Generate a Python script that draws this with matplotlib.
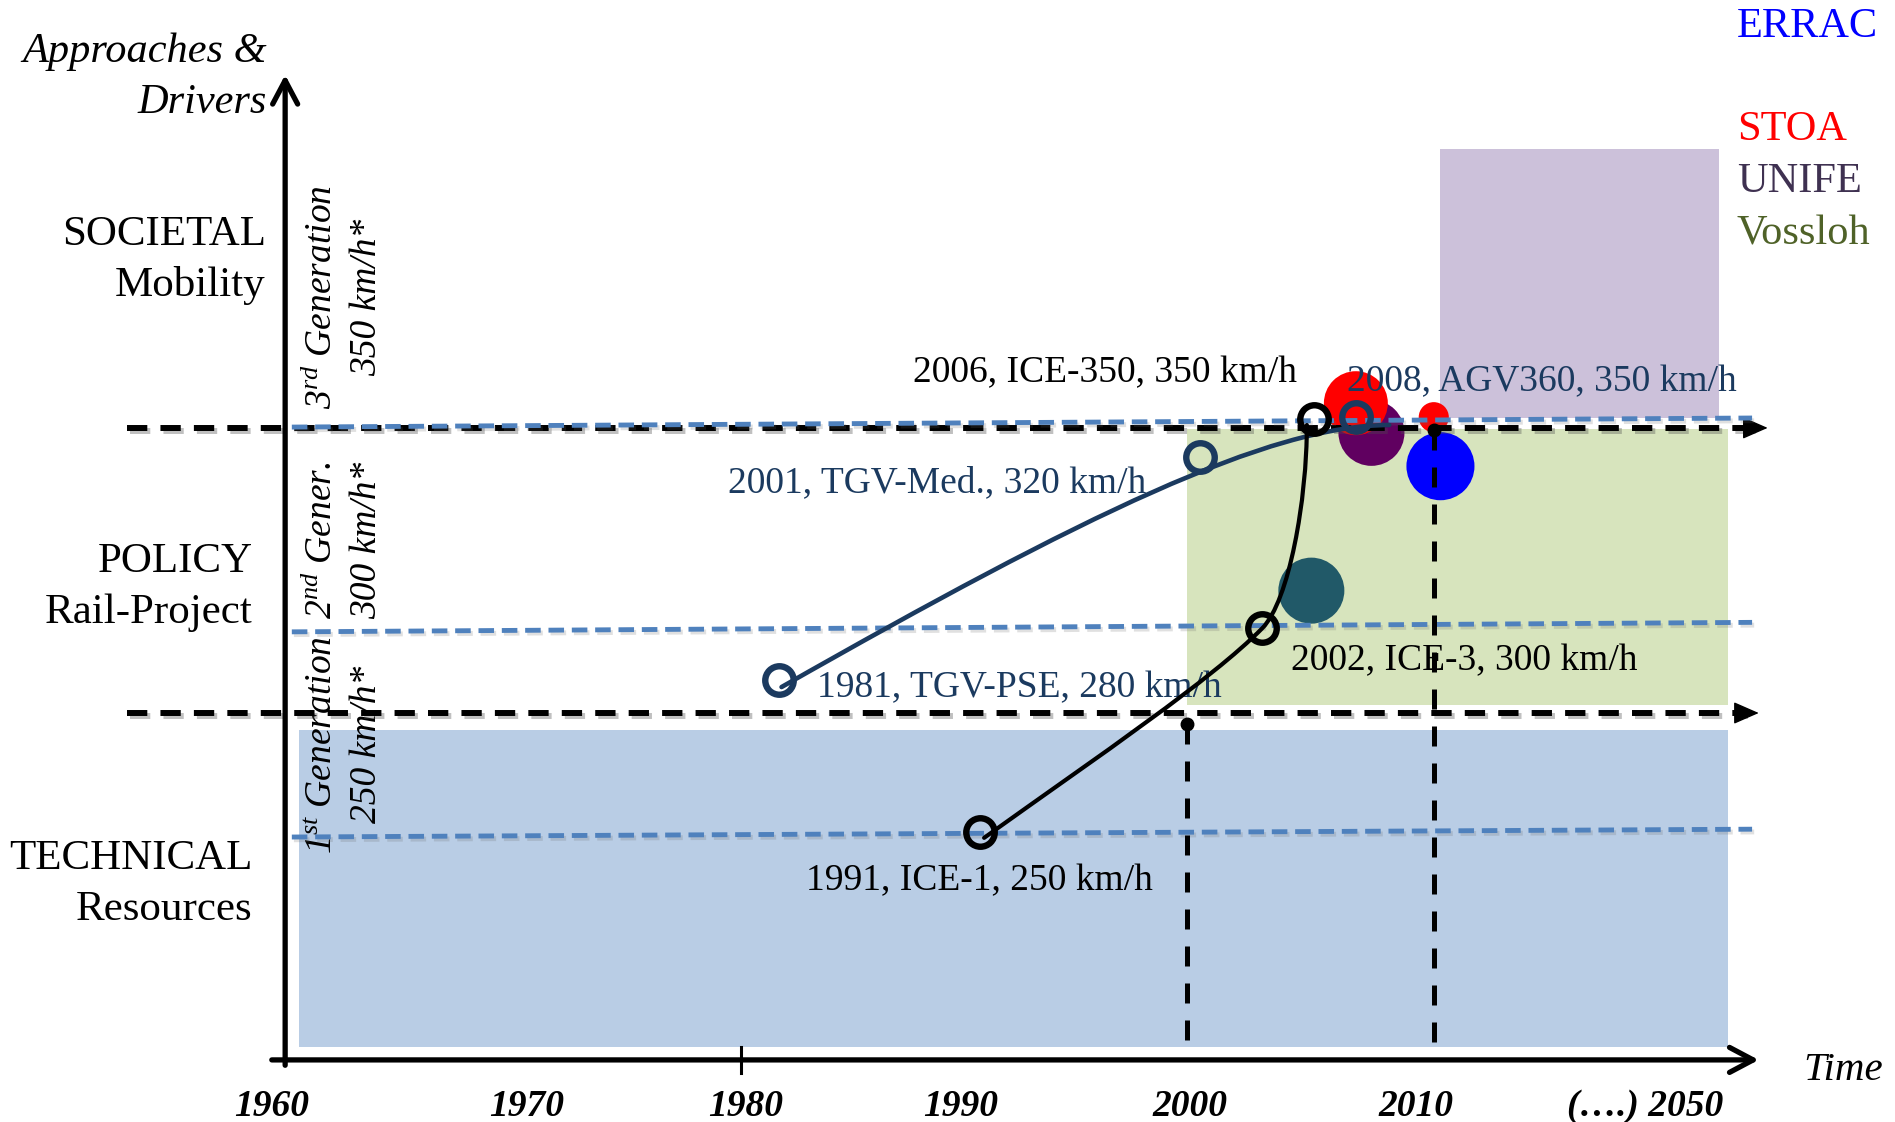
import matplotlib
matplotlib.use('Agg')
from matplotlib import pyplot as plt
from matplotlib import patheffects as pe
from matplotlib.patches import Rectangle, PathPatch
from matplotlib.path import Path

plt.rcParams['font.family'] = ['Liberation Serif', 'DejaVu Serif']
plt.rcParams['mathtext.fontset'] = 'custom'
plt.rcParams['mathtext.rm'] = 'Liberation Serif'
plt.rcParams['mathtext.it'] = 'Liberation Serif:italic'

NAVY = '#1b3a5f'
GUIDE = '#4f81bd'

# x = year, y = speed level (km/h); the axis is compressed after ~2020
#############################################################################
# data
levels      = [('SOCIETAL', 'Mobility'), ('POLICY', 'Rail-Project'), ('TECHNICAL', 'Resources')]
gen_lines   = [('3$^{rd}$ Generation', '350 km/h*'),
               ('2$^{nd}$ Gener.',     '300 km/h*'),
               ('1$^{st}$ Generation', '250 km/h*')]
guide_start = [349.5, 299.8, 250.0]      # blue dashed generation levels (slightly tilted)
guide_end   = [351.7, 302.1, 251.9]
thresholds  = [349.3, 280.1]             # black dashed borders between approaches

trains_year  = [1981.7, 1990.7, 2000.6, 2003.4, 2005.7, 2007.6]
trains_speed = [288.1, 251.2, 342.2, 300.7, 351.5, 351.9]
trains_label = ['1981, TGV-PSE, 280 km/h', '1991, ICE-1, 250 km/h',
                '2001, TGV-Med., 320 km/h', '2002, ICE-3, 300 km/h',
                '2006, ICE-350, 350 km/h', '2008, AGV360, 350 km/h']
trains_family = ['TGV', 'ICE', 'TGV', 'ICE', 'ICE', 'TGV']

# trend curves (bezier control points, year / km/h)
tgv_curve = [(1981.8, 286.4), (1995.3, 327.9), (2003.7, 350.0), (2009.1, 350.0)]
ice_curve = [(1990.9, 249.8), (1996.1, 269.9), (2001.1, 288.1), (2003.4, 300.7),
             (2004.6, 307.3), (2005.4, 331.8), (2005.4, 350.0)]

# areas: (x0, x1, y0, y1)
areas       = [(1960.1, 2024.3, 199.0, 276.0),
               (2000.0, 2024.3, 282.0, 349.0),
               (2011.4, 2023.9, 351.7, 417.1)]
area_colors = ['#b9cde5', '#d7e4bd', '#ccc1da']

blobs_year  = [2008.3, 2007.6, 2011.1, 2011.4, 2005.6]
blobs_speed = [348.1, 355.3, 351.9, 340.0, 309.8]
blobs_size  = [2260, 2120, 470, 2400, 2260]
blobs_color = ['#600060', '#ff0000', '#ff0000', '#0000ff', '#215968']

milestones     = [2000.0, 2011.1]
milestone_dots = [277.4, 348.8]

orgs       = ['ERRAC', 'STOA', 'UNIFE', 'Vossloh']
org_colors = ['#0000ff', '#ff0000', '#3f3151', '#4f6228']

tick_years  = [1960, 1970, 1980, 1990, 2000, 2010, 2020.6]
tick_labels = ['1960', '1970', '1980', '1990', '2000', '2010', '(….) 2050']

#############################################################################
fig = plt.figure(figsize=(18.95, 11.22), dpi=100)
ax = fig.add_axes([0, 0, 1, 1])
ax.set_xlim(1946.69, 2031.82)
ax.set_ylim(180.83, 453.16)
ax.axis('off')

shadow = [pe.SimpleLineShadow(offset=(2, -2.5), shadow_color='0.3', alpha=0.35), pe.Normal()]
soft   = [pe.SimpleLineShadow(offset=(1.5, -2), shadow_color='0.4', alpha=0.2), pe.Normal()]

for (x0, x1, y0, y1), c in zip(areas, area_colors):
  ax.add_patch(Rectangle((x0, y0), x1 - x0, y1 - y0, facecolor=c, edgecolor='none', zorder=1))

ax.scatter(blobs_year, blobs_speed, s=blobs_size, c=blobs_color, linewidths=0, zorder=2)

# black dashed borders with arrow heads
for y, xend in zip(thresholds, [2026.1, 2025.7]):
  ax.plot([1952.4, xend - 0.6], [y, y], color='k', lw=4.3, dashes=(3.4, 2.2),
          solid_capstyle='butt', path_effects=shadow, zorder=3)
  ax.annotate('', xy=(xend, y), xytext=(xend - 1.0, y),
              arrowprops=dict(arrowstyle='-|>,head_length=0.8,head_width=0.35',
                              color='k', lw=1, mutation_scale=20, shrinkA=0, shrinkB=0),
              zorder=3)

for y0, y1 in zip(guide_start, guide_end):
  ax.plot([1959.8, 2025.4], [y0, y1], color=GUIDE, lw=3.5, dashes=(3.2, 1.6),
          path_effects=soft, zorder=4)

for x, yd in zip(milestones, milestone_dots):
  ax.plot([x, x], [yd, 196.5], color='k', lw=3.6, dashes=(4.0, 3.4), zorder=4)
  ax.plot(x, yd, 'o', color='k', ms=9, zorder=4)

# axes
axis_kw = dict(arrowstyle='->,head_length=0.85,head_width=0.45', color='k', lw=3.8,
               mutation_scale=20, shrinkA=0, shrinkB=0)
ax.annotate('', xy=(1959.5, 435.0), xytext=(1959.5, 194.6), arrowprops=axis_kw, zorder=5)
ax.annotate('', xy=(2025.7, 195.9), xytext=(1958.9, 195.9), arrowprops=axis_kw, zorder=5)
ax.plot([1980, 1980], [192.7, 199.0], color='k', lw=2.2, zorder=5)

# trend curves
tgv_path = Path(tgv_curve, [Path.MOVETO] + [Path.CURVE4] * 3)
ice_path = Path(ice_curve, [Path.MOVETO] + [Path.CURVE4] * 6)
ax.add_patch(PathPatch(tgv_path, facecolor='none', edgecolor=NAVY, lw=3.3, capstyle='round', zorder=6))
ax.add_patch(PathPatch(ice_path, facecolor='none', edgecolor='k', lw=3.0, capstyle='round', zorder=6))

label_pos = [(1983.4, 284.0), (1982.9, 237.1), (1979.4, 333.7),
             (2004.7, 290.5), (1987.7, 360.4), (2007.2, 358.3)]
for x, y, lab, fam, (lx, ly) in zip(trains_year, trains_speed, trains_label, trains_family, label_pos):
  col = NAVY if fam == 'TGV' else 'k'
  ax.plot(x, y, 'o', ms=20.5, mfc='none', mec=col, mew=4.6, zorder=7)
  ax.text(lx, ly, lab, color=col, fontsize=27, ha='left', va='baseline', zorder=2.5)

# left labels
ax.text(1958.67, 438.2, 'Approaches &', fontsize=30.5, style='italic', ha='right', va='baseline')
ax.text(1958.67, 425.7, 'Drivers', fontsize=30.5, style='italic', ha='right', va='baseline')
for (top, bottom), yb, xr in zip(levels, [393.7, 314.3, 242.2], [1958.63, 1958.05, 1958.05]):
  ax.text(xr, yb, top, fontsize=31, ha='right', va='baseline')
  ax.text(xr, yb - 12.3, bottom, fontsize=31, ha='right', va='baseline')

for (l1, l2), yc in zip(gen_lines, [381.0, 322.0, 272.4]):
  ax.text(1961.15, yc, l1, fontsize=27, style='italic', rotation=90,
          ha='center', va='center', zorder=2.5)
  ax.text(1963.15, yc, l2, fontsize=27, style='italic', rotation=90,
          ha='center', va='center', zorder=2.5)

for i, (name, c) in enumerate(zip(orgs, org_colors)):
  yb = [444.2, 419.2, 406.6, 393.9][i]
  ax.text(2024.72, yb, name, color=c, fontsize=30.5, ha='left', va='baseline')

ax.text(2027.7, 191.0, 'Time', fontsize=29.5, style='italic', ha='left', va='baseline')

nudge = [-25, 8, 4, -3, 3, 7, 0]
for x, lab, dx in zip(tick_years, tick_labels, nudge):
  ax.annotate(lab, (x, 182.3), xytext=(dx, 0), textcoords='offset pixels',
              fontsize=27, fontweight='bold', style='italic', ha='center', va='baseline')

fig.savefig('out.png', dpi=100)
